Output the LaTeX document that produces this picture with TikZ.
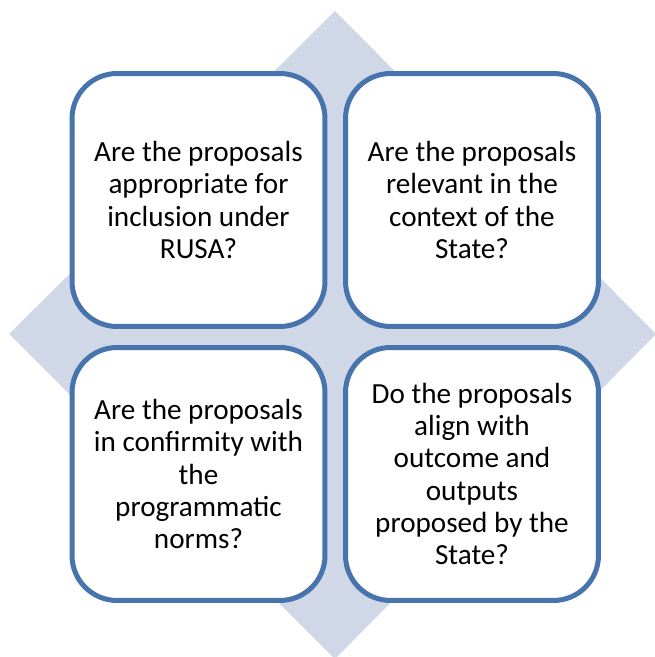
\documentclass[tikz,border=0pt]{standalone}
\usepackage{fontspec}
\setmainfont{Carlito}
\usetikzlibrary{positioning}
\definecolor{qline}{RGB}{71,116,173}
\definecolor{qback}{RGB}{208,216,232}

\begin{document}
\begin{tikzpicture}[x=0.02cm,y=0.02cm,
  qbox/.style={draw=qline,line width=0.1cm,fill=white,rounded corners=0.9cm,
    minimum width=5.06cm,minimum height=5.06cm,inner sep=0,align=center,
    font=\fontsize{16.6}{18.3}\selectfont}]
 \useasboundingbox (0,0) rectangle (654,657);
 % background diamond
 \fill[qback] (335,646) -- (656,323) -- (335,-2) -- (9,323) -- cycle;
 % four questions
 \node[qbox] (tl) at (198.5,457) {Are the proposals\\ appropriate for\\ inclusion under\\ RUSA?};
 \node[qbox] (tr) at (472,457) {Are the proposals\\ relevant in the\\ context of the\\ State?};
 \node[qbox] (bl) at (198.5,183) {Are the proposals\\ in confirmity with\\ the\\ programmatic\\ norms?};
 \node[qbox] (br) at (472,183) {Do the proposals\\ align with\\ outcome and\\ outputs\\ proposed by the\\ State?};
\end{tikzpicture}
\end{document}
